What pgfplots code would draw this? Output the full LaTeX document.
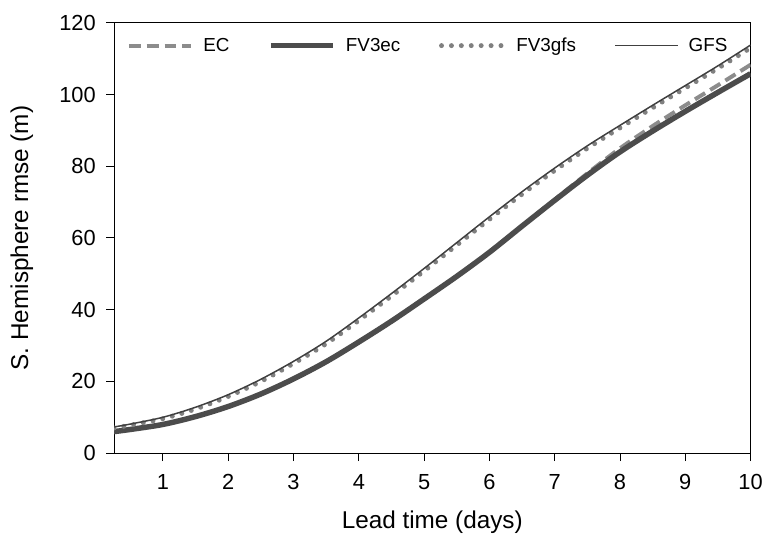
\documentclass[border=0pt]{standalone}
\usepackage{pgfplots}
\pgfplotsset{compat=1.18}
\usepackage{fontspec}
\setmainfont{Liberation Sans}
\definecolor{ecgray}{gray}{0.55}
\definecolor{fvecgray}{gray}{0.30}
\definecolor{fvgfsgray}{gray}{0.50}
\definecolor{gfsgray}{gray}{0.25}
\begin{document}
\begin{tikzpicture}
\begin{axis}[
  name=ax, at={(0,0)}, anchor=south west,
  scale only axis, width=642pt, height=434pt,
  xmin=0.25, xmax=10, ymin=0, ymax=120,
  xtick={1,...,10}, ytick={0,20,...,120},
  tick align=outside, xtick pos=bottom, ytick pos=left,
  major tick length=8pt,
  tick style={black, line width=1pt},
  axis line style={line width=1pt},
  /pgf/number format/assume math mode=true,
  ticklabel style={font=\fontsize{22}{24}\selectfont},
  xticklabel style={yshift=-10pt},
  yticklabel style={xshift=-7pt},
  xlabel={Lead time (days)}, ylabel={S. Hemisphere rmse (m)},
  label style={font=\fontsize{24.5}{27}\selectfont},
  xlabel style={at={([yshift=-70pt]axis description cs:0.5,0)}, anchor=center},
  ylabel style={at={([xshift=-93pt]axis description cs:0,0.5)}, anchor=center},
  legend columns=4,
  legend style={at={([xshift=13pt,yshift=-23pt]axis description cs:0,1)}, anchor=west, draw=none, fill=none,
    font=\fontsize{19}{21}\selectfont, inner sep=0pt, outer sep=0pt,
    /tikz/every odd column/.append style={column sep=8pt},
    /tikz/every even column/.append style={column sep=37pt}},
  legend image code/.code={\draw[#1] (0pt,0pt) -- (63pt,0pt);},
]
\addplot[ecgray, line width=4pt, dash pattern=on 12pt off 6pt, smooth] coordinates {
(0.25,6.0)(0.5,6.6)(1,8.0)(1.5,10.2)(2,13.0)(2.5,16.5)(3,20.7)(3.5,25.5)(4,31.0)(4.5,36.8)(5,43.0)(5.5,49.3)(6,56.0)(6.5,63.3)(7,70.7)(7.5,78.0)(8,85.0)(8.5,91.2)(9,97.0)(9.5,102.6)(10,108.3)};
\addlegendentry{EC}
\addplot[fvecgray, line width=5.5pt, smooth] coordinates {
(0.25,6.0)(0.5,6.6)(1,8.0)(1.5,10.2)(2,13.0)(2.5,16.5)(3,20.7)(3.5,25.5)(4,31.0)(4.5,36.8)(5,43.0)(5.5,49.3)(6,56.0)(6.5,63.3)(7,70.5)(7.5,77.5)(8,84.0)(8.5,89.8)(9,95.3)(9.5,100.6)(10,105.8)};
\addlegendentry{FV3ec}
\addplot[fvgfsgray, line width=5pt, line cap=round, dash pattern=on 0pt off 10pt, smooth] coordinates {
(0.25,7.0)(0.5,7.8)(1,9.6)(1.5,12.3)(2,15.8)(2.5,20.0)(3,25.0)(3.5,30.5)(4,37.0)(4.5,43.8)(5,50.8)(5.5,58.0)(6,65.2)(6.5,72.2)(7,78.8)(7.5,85.0)(8,90.7)(8.5,96.3)(9,101.8)(9.5,107.3)(10,113.0)};
\addlegendentry{FV3gfs}
\addplot[gfsgray, line width=1.5pt, smooth] coordinates {
(0.25,7.3)(0.5,8.1)(1,10.0)(1.5,12.8)(2,16.3)(2.5,20.6)(3,25.6)(3.5,31.2)(4,37.7)(4.5,44.5)(5,51.5)(5.5,58.7)(6,65.9)(6.5,72.9)(7,79.5)(7.5,85.7)(8,91.4)(8.5,97.0)(9,102.5)(9.5,108.0)(10,113.8)};
\addlegendentry{GFS}
\end{axis}
\useasboundingbox (-115pt,-78pt) rectangle (651pt,457pt);
\end{tikzpicture}
\end{document}
